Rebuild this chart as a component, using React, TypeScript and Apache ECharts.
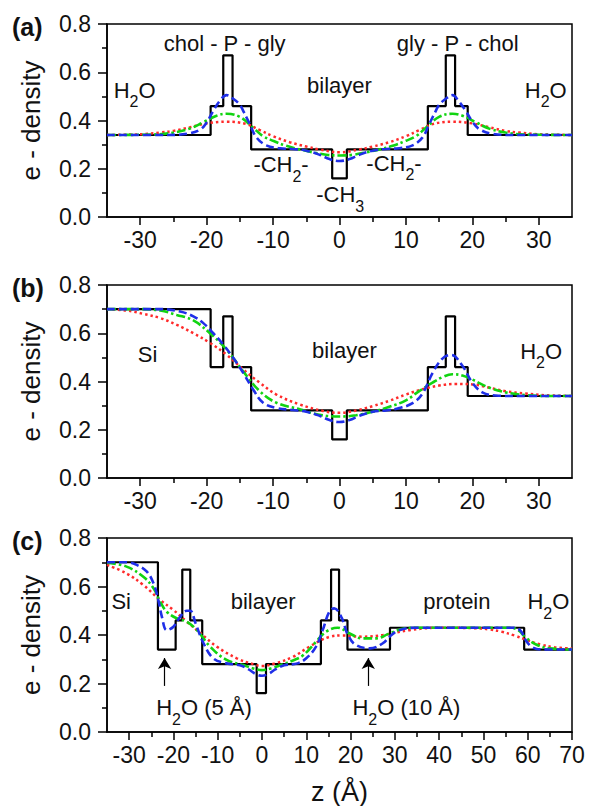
import React, { useEffect, useRef } from "react";
import * as echarts from "echarts";

const FONT = '"Liberation Sans", Arial, Helvetica, sans-serif';

// ---- axis ticks ----
const xTicksAB = [-30, -20, -10, 0, 10, 20, 30];
const xMinorAB = [-25, -15, -5, 5, 15, 25];
const xTicksC = [-30, -20, -10, 0, 10, 20, 30, 40, 50, 60, 70];
const xMinorC = [-25, -15, -5, 5, 15, 25, 35, 45, 55, 65];
const xRangeAB = [-35, 35];
const xRangeC = [-35, 70];
const yRange = [0, 0.8];

// ---- panel (a) ----
const stepA = [
  [-35, 0.34], [-19.4, 0.46], [-17.5, 0.67], [-16.1, 0.46], [-13.3, 0.28], [-1.1, 0.16],
  [1.1, 0.28], [13.3, 0.46], [16.0, 0.67], [17.4, 0.46], [19.3, 0.34], [35, 0.34],
];
const blueA = [
  [-35, 0.34], [-26, 0.34], [-23, 0.345], [-21, 0.362], [-20, 0.392], [-19, 0.44], [-18, 0.482],
  [-17, 0.505], [-16, 0.49], [-15, 0.465], [-14.5, 0.44], [-13.5, 0.385], [-12.5, 0.33],
  [-11, 0.297], [-9, 0.285], [-7, 0.282], [-5, 0.275], [-3, 0.258], [-1.5, 0.24], [0, 0.232],
  [1.5, 0.24], [3, 0.258], [5, 0.275], [7, 0.282], [9, 0.285], [11, 0.297], [12.5, 0.33],
  [13.5, 0.385], [14.5, 0.44], [15, 0.465], [16, 0.49], [17, 0.505], [18, 0.478], [19, 0.44],
  [20, 0.395], [21, 0.365], [23, 0.345], [26, 0.34], [35, 0.34],
];
const greenA = [
  [-35, 0.34], [-28, 0.342], [-25, 0.35], [-22.5, 0.367], [-20.5, 0.393], [-18.5, 0.42],
  [-17, 0.428], [-15, 0.415], [-13, 0.37], [-11.5, 0.335], [-10, 0.316], [-8, 0.295],
  [-6, 0.28], [-4, 0.268], [-2, 0.258], [0, 0.255], [2, 0.258], [4, 0.268], [6, 0.28],
  [8, 0.295], [10, 0.316], [11.5, 0.335], [13, 0.37], [15, 0.415], [17, 0.428], [18.5, 0.42],
  [20.5, 0.393], [22.5, 0.367], [25, 0.35], [28, 0.342], [35, 0.34],
];
const redA = [
  [-35, 0.34], [-30, 0.343], [-27, 0.35], [-25, 0.357], [-22.5, 0.372], [-20, 0.388],
  [-17, 0.395], [-14, 0.385], [-12, 0.36], [-10, 0.335], [-7.5, 0.31], [-5, 0.292],
  [-3, 0.28], [0, 0.268], [3, 0.28], [5, 0.292], [7.5, 0.31], [10, 0.335], [12, 0.36],
  [14, 0.385], [17, 0.395], [20, 0.388], [22.5, 0.372], [25, 0.357], [27, 0.35], [30, 0.343],
  [35, 0.34],
];

// ---- panel (b) ----
const stepB = [
  [-35, 0.7], [-19.4, 0.46], [-17.5, 0.67], [-16.1, 0.46], [-13.3, 0.28], [-1.1, 0.16],
  [1.1, 0.28], [13.3, 0.46], [16.0, 0.67], [17.4, 0.46], [19.3, 0.34], [35, 0.34],
];
const blueB = [
  [-35, 0.7], [-27, 0.7], [-24, 0.69], [-22, 0.67], [-20.5, 0.642], [-19, 0.6], [-17.5, 0.553],
  [-16, 0.498], [-14.5, 0.436], [-13, 0.367], [-11.5, 0.312], [-9.5, 0.29], [-7, 0.282],
  [-5, 0.275], [-3, 0.258], [-1.5, 0.24], [0, 0.232], [1.5, 0.24], [3, 0.258], [5, 0.275],
  [7, 0.28], [9, 0.29], [11, 0.31], [12.5, 0.35], [14, 0.435], [15.5, 0.495], [16.8, 0.51],
  [18.5, 0.465], [20, 0.395], [21.5, 0.355], [23.5, 0.342], [26, 0.34], [35, 0.34],
];
const greenB = [
  [-35, 0.7], [-29.5, 0.7], [-27, 0.694], [-24.5, 0.676], [-22, 0.653], [-19.5, 0.6],
  [-17, 0.532], [-14.5, 0.442], [-12, 0.36], [-9.5, 0.312], [-6, 0.285], [-3, 0.262],
  [0, 0.255], [2.5, 0.26], [5, 0.275], [7.5, 0.295], [10, 0.322], [12, 0.36], [14, 0.395],
  [15.5, 0.418], [17, 0.43], [18.5, 0.425], [20, 0.408], [22.5, 0.375], [25, 0.355],
  [28, 0.344], [31, 0.34], [35, 0.34],
];
const redB = [
  [-35, 0.7], [-32, 0.694], [-29.5, 0.68], [-27, 0.663], [-24.5, 0.635], [-22, 0.6],
  [-19.5, 0.56], [-17, 0.511], [-14.5, 0.45], [-12, 0.395], [-9.5, 0.346], [-6, 0.305],
  [-2.5, 0.278], [0, 0.27], [2.5, 0.28], [5, 0.298], [7.5, 0.32], [10, 0.346], [12.5, 0.368],
  [15, 0.383], [17.5, 0.39], [20, 0.388], [22.5, 0.375], [25, 0.36], [28, 0.35], [31, 0.343],
  [35, 0.34],
];

// ---- panel (c) ----
const stepC = [
  [-35, 0.7], [-23.5, 0.34], [-19.5, 0.46], [-18.0, 0.67], [-16.2, 0.46], [-13.5, 0.28],
  [-1.2, 0.16], [0.9, 0.28], [13.3, 0.46], [15.6, 0.67], [17.4, 0.46], [19.3, 0.34],
  [28.9, 0.43], [59.2, 0.34], [70, 0.34],
];
const blueC = [
  [-35, 0.7], [-30.5, 0.7], [-28.3, 0.689], [-26, 0.661], [-24.5, 0.613], [-23.4, 0.544],
  [-22.6, 0.475], [-21.5, 0.42], [-20, 0.434], [-18.5, 0.475], [-17, 0.5], [-16.2, 0.5],
  [-15, 0.448], [-13.2, 0.366], [-11, 0.304], [-8, 0.283], [-5, 0.275], [-3, 0.258],
  [-1.5, 0.24], [0, 0.232], [1.5, 0.24], [3, 0.258], [5, 0.275], [8, 0.283], [10, 0.304],
  [12.2, 0.352], [13.7, 0.42], [15.2, 0.496], [16.3, 0.51], [17.9, 0.475], [19.4, 0.4],
  [21.2, 0.359], [24.3, 0.345], [27.3, 0.366], [28.8, 0.393], [31, 0.42], [34.8, 0.43],
  [57, 0.43], [58.5, 0.415], [59.5, 0.38], [61, 0.35], [63, 0.34], [70, 0.34],
];
const greenC = [
  [-35, 0.698], [-30.6, 0.682], [-26.8, 0.64], [-24.5, 0.593], [-23, 0.537], [-21.5, 0.496],
  [-19.3, 0.469], [-17, 0.455], [-14.7, 0.42], [-11.7, 0.352], [-8, 0.297], [-4.2, 0.276],
  [-2, 0.262], [0, 0.255], [2, 0.262], [4.5, 0.278], [7, 0.295], [9.2, 0.315], [12.2, 0.372],
  [14.5, 0.414], [17.1, 0.43], [19.7, 0.407], [22.7, 0.386], [25.8, 0.386], [28.8, 0.407],
  [32.5, 0.428], [35, 0.43], [56, 0.43], [58, 0.418], [59.5, 0.39], [62, 0.36], [65, 0.345],
  [70, 0.34],
];
const redC = [
  [-35, 0.689], [-30.6, 0.654], [-26.8, 0.606], [-23, 0.544], [-20, 0.503], [-17, 0.455],
  [-14.3, 0.414], [-10.2, 0.352], [-5.7, 0.304], [-2, 0.28], [0, 0.272], [3, 0.283],
  [7, 0.31], [10.7, 0.352], [15.2, 0.392], [18.2, 0.398], [22.7, 0.393], [27.3, 0.4],
  [33.3, 0.42], [40, 0.43], [48, 0.428], [51.4, 0.423], [54, 0.414], [57, 0.398],
  [60, 0.378], [63, 0.36], [66, 0.35], [70, 0.344],
];

// arrows in panel (c): x positions and y span
const arrowZ = [-22, 24];
const arrowSpan = [0.19, 0.305];

const panelLabels = ["(a)", "(b)", "(c)"];

// annotation texts: panel, z, v, text, align
const annotations = [
  { p: 0, z: -17.3, v: 0.72, t: "chol - P - gly", a: "center" },
  { p: 0, z: 17.8, v: 0.72, t: "gly - P - chol", a: "center" },
  { p: 0, z: -34.0, v: 0.525, t: "H{s|2}O", a: "left" },
  { p: 0, z: 34.2, v: 0.525, t: "H{s|2}O", a: "right" },
  { p: 0, z: 0, v: 0.545, t: "bilayer", a: "center" },
  { p: 0, z: -8.8, v: 0.216, t: "-CH{s|2}-", a: "center" },
  { p: 0, z: 8.2, v: 0.222, t: "-CH{s|2}-", a: "center" },
  { p: 0, z: 0.1, v: 0.092, t: "-CH{s|3}", a: "center" },
  { p: 1, z: -28.9, v: 0.51, t: "Si", a: "center" },
  { p: 1, z: 0.75, v: 0.53, t: "bilayer", a: "center" },
  { p: 1, z: 33.5, v: 0.525, t: "H{s|2}O", a: "right" },
  { p: 2, z: -34.0, v: 0.537, t: "Si", a: "left" },
  { p: 2, z: 0.25, v: 0.537, t: "bilayer", a: "center" },
  { p: 2, z: 44, v: 0.537, t: "protein", a: "center" },
  { p: 2, z: 69.4, v: 0.537, t: "H{s|2}O", a: "right" },
  { p: 2, z: -13.1, v: 0.1, t: "H{s|2}O (5 Å)", a: "center" },
  { p: 2, z: 32.6, v: 0.1, t: "H{s|2}O (10 Å)", a: "center" },
];

const grids = [
  { left: 107, top: 24, width: 465, height: 193 },
  { left: 107, top: 285, width: 465, height: 193 },
  { left: 107, top: 538, width: 465, height: 194 },
];

const BLACK = "#000";
const BLUE = "#1f2fe8";
const GREEN = "#11d411";
const RED = "#ff2a2a";

export default function App() {
  const ref = useRef<HTMLDivElement>(null);

  useEffect(() => {
    if (!ref.current) return;
    const chart = echarts.init(ref.current, null, { renderer: "svg" });

    const axisLine = { show: true, onZero: false, lineStyle: { color: BLACK, width: 1.5 } };
    const labelStyle = { fontSize: 23, color: "#111", fontFamily: FONT };

    const xAxes: any[] = [];
    const yAxes: any[] = [];
    grids.forEach((_, i) => {
      const range = i === 2 ? xRangeC : xRangeAB;
      const ticks = i === 2 ? xTicksC : xTicksAB;
      const minors = i === 2 ? xMinorC : xMinorAB;
      xAxes.push({
        type: "value",
        gridIndex: i,
        min: range[0],
        max: range[1],
        position: "bottom",
        axisLine,
        axisTick: { show: true, inside: false, length: 8, customValues: ticks, lineStyle: { color: BLACK, width: 1.5 } },
        axisLabel: { show: true, customValues: ticks, margin: 11, ...labelStyle },
        splitLine: { show: false },
        ...(i === 2
          ? {
              name: "z (Å)",
              nameLocation: "middle",
              nameGap: 46,
              nameTextStyle: { fontSize: 27, color: "#111", fontFamily: FONT },
            }
          : {}),
      });
      xAxes.push({
        type: "value",
        gridIndex: i,
        min: range[0],
        max: range[1],
        position: "bottom",
        axisLine: { show: false },
        axisTick: { show: true, inside: false, length: 5, customValues: minors, lineStyle: { color: BLACK, width: 1.5 } },
        axisLabel: { show: false },
        splitLine: { show: false },
      });
      yAxes.push({
        type: "value",
        gridIndex: i,
        min: yRange[0],
        max: yRange[1],
        interval: 0.2,
        axisLine,
        axisTick: { show: true, inside: false, length: 9, lineStyle: { color: BLACK, width: 1.5 } },
        minorTick: { show: true, splitNumber: 2, length: 5, lineStyle: { color: BLACK, width: 1.5 } },
        axisLabel: { formatter: (v: number) => v.toFixed(1), margin: 16, ...labelStyle },
        splitLine: { show: false },
        minorSplitLine: { show: false },
        name: "e - density",
        nameLocation: "middle",
        nameGap: 63,
        nameTextStyle: { fontSize: 26, color: "#111", fontFamily: FONT },
      });
    });

    const panels = [
      [stepA, redA, greenA, blueA],
      [stepB, redB, greenB, blueB],
      [stepC, redC, greenC, blueC],
    ];
    const series: any[] = [];
    panels.forEach((set, i) => {
      const base = { type: "line", xAxisIndex: i * 2, yAxisIndex: i, showSymbol: false, symbol: "none", silent: true };
      series.push({
        ...base,
        name: "step" + i,
        data: set[0],
        step: "end",
        lineStyle: { color: BLACK, width: 2.2 },
        z: 2,
        ...(i === 2
          ? {
              markLine: {
                silent: true,
                symbol: ["none", "arrow"],
                symbolSize: [10, 11],
                label: { show: false },
                lineStyle: { color: BLACK, width: 1.2, type: "solid" },
                data: arrowZ.map((z) => [{ coord: [z, arrowSpan[0]] }, { coord: [z, arrowSpan[1]] }]),
              },
            }
          : {}),
      });
      series.push({
        ...base,
        name: "red" + i,
        data: set[1],
        smooth: 0.4,
        lineStyle: { color: RED, width: 2.5, type: [2.5, 3] },
        z: 3,
      });
      series.push({
        ...base,
        name: "green" + i,
        data: set[2],
        smooth: 0.4,
        lineStyle: { color: GREEN, width: 2.6, type: [9, 3, 2.5, 3] },
        z: 4,
      });
      series.push({
        ...base,
        name: "blue" + i,
        data: set[3],
        smooth: 0.4,
        lineStyle: { color: BLUE, width: 2.6, type: [8, 4] },
        z: 5,
      });
    });

    chart.setOption({
      animation: false,
      backgroundColor: "#fff",
      grid: grids.map((g) => ({ ...g, show: true, borderColor: BLACK, borderWidth: 1.5, backgroundColor: "transparent" })),
      xAxis: xAxes,
      yAxis: yAxes,
      series,
    });

    const rich = {
      s: { fontSize: 16, fontFamily: FONT, fill: "#111", padding: [23, 0, 0, 0] },
    };
    const texts: any[] = annotations.map((an) => {
      const pt = chart.convertToPixel({ xAxisIndex: an.p * 2, yAxisIndex: an.p } as any, [an.z, an.v]) as number[];
      return {
        type: "text",
        x: pt[0],
        y: pt[1],
        z: 100,
        silent: true,
        style: {
          text: an.t,
          fontSize: 22,
          fontFamily: FONT,
          fill: "#111",
          align: an.a,
          verticalAlign: "middle",
          rich,
        },
      };
    });
    panelLabels.forEach((t, i) => {
      texts.push({
        type: "text",
        x: 12,
        y: grids[i].top + 3,
        z: 100,
        silent: true,
        style: { text: t, fontSize: 25, fontWeight: "bold", fontFamily: FONT, fill: "#111", align: "left", verticalAlign: "middle" },
      });
    });
    chart.setOption({ graphic: texts });

    return () => chart.dispose();
  }, []);

  return <div ref={ref} style={{ position: "absolute", left: 0, top: 0, width: 596, height: 806 }} />;
}
